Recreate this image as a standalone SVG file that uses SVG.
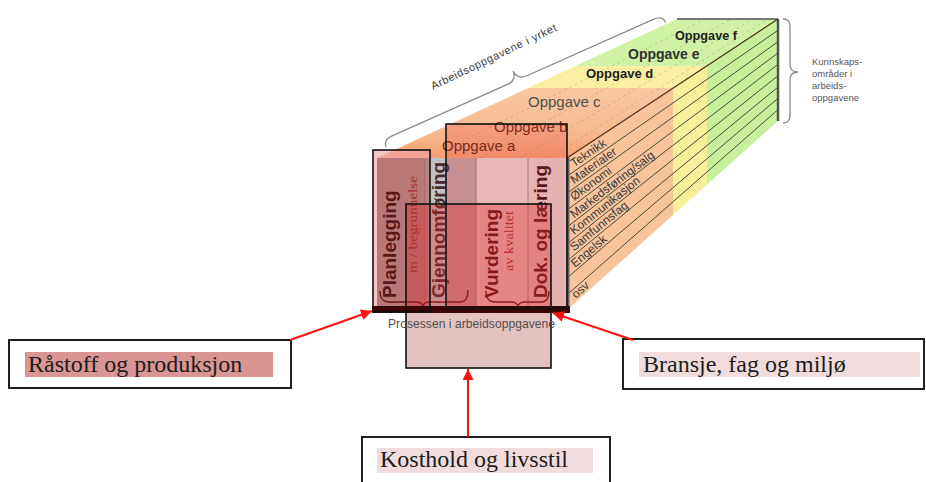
<svg xmlns="http://www.w3.org/2000/svg" width="926" height="482" viewBox="0 0 926 482">
<defs>
<style>
.sans{font-family:"Liberation Sans",Arial,sans-serif}
.col{font-family:"Liberation Sans",Arial,sans-serif;font-weight:bold;font-size:19px}
.small{font-family:"Liberation Serif","Times New Roman",serif;font-size:13px;fill:#a83030}
.row{font-family:"Liberation Sans",Arial,sans-serif;font-size:12px;fill:#3a3a3a}
.rowline{stroke:#4a4a3a;stroke-width:1}
.box{fill:none;stroke:#111;stroke-width:1.6}
.node{fill:#fff;stroke:#1e1e1e;stroke-width:2}
.nodetext{font-family:"Liberation Serif","Times New Roman",serif;font-size:24px;fill:#1c1c1c}
.arrow{stroke:#ff1010;stroke-width:2;fill:none;marker-end:url(#ah)}
.brace{fill:none;stroke:#8a8a8a;stroke-width:1.3}
.pbrace{fill:none;stroke:#6a1010;stroke-width:1.3}
.dash{stroke:#a07a50;stroke-width:0.8;stroke-dasharray:3 3;opacity:0.45}
.div{stroke:#9a6a6a;stroke-width:0.8}
</style>
<marker id="ah" viewBox="0 0 10 10" refX="10" refY="5" markerWidth="14" markerHeight="11" markerUnits="userSpaceOnUse" orient="auto"><path d="M0,0 L10,5 L0,10 z" fill="#ff1010"/></marker>
<clipPath id="topClip"><polygon points="377,158 567,158 778,19 677,19"/></clipPath>
<clipPath id="rightClip"><polygon points="567,158 778,19 778,121 567,310"/></clipPath>
<linearGradient id="topOrange" x1="0" y1="158" x2="0" y2="88" gradientUnits="userSpaceOnUse">
<stop offset="0" stop-color="#f3a072"/><stop offset="0.4" stop-color="#f7bc94"/><stop offset="1" stop-color="#f8c8a2"/>
</linearGradient>
</defs>

<g id="top-face">
<g clip-path="url(#topClip)">
<rect x="370" y="88" width="420" height="72" fill="url(#topOrange)"/>
<rect x="370" y="66" width="420" height="22" fill="#f8f0a0"/>
<rect x="370" y="15" width="420" height="51" fill="#d0f2a6"/>
<line class="dash" x1="430" y1="158" x2="705" y2="19"/>
<line class="dash" x1="480" y1="158" x2="731" y2="19"/>
<line class="dash" x1="520" y1="158" x2="753" y2="19"/>
<line class="dash" x1="550" y1="158" x2="768" y2="19"/>
</g>
<line x1="677" y1="19" x2="778" y2="19" stroke="#505050" stroke-width="1.5"/>
</g>

<g id="right-face">
<g clip-path="url(#rightClip)">
<rect x="565" y="15" width="108" height="300" fill="#f7c49c"/>
<rect x="673" y="15" width="34" height="300" fill="#f7f09a"/>
<rect x="707" y="15" width="75" height="300" fill="#c8f09c"/>
</g>
<line class="rowline" x1="569" y1="174.9" x2="778" y2="30.3"/>
<line class="rowline" x1="569" y1="191.8" x2="778" y2="41.7"/>
<line class="rowline" x1="569" y1="208.7" x2="778" y2="53"/>
<line class="rowline" x1="569" y1="225.6" x2="778" y2="64.3"/>
<line class="rowline" x1="569" y1="242.4" x2="778" y2="75.7"/>
<line class="rowline" x1="569" y1="259.3" x2="778" y2="87"/>
<line class="rowline" x1="569" y1="276.2" x2="778" y2="98.3"/>
<line class="rowline" x1="569" y1="293.1" x2="778" y2="109.6"/>
<line x1="567" y1="158" x2="778" y2="19" stroke="#503020" stroke-width="1.3"/>
<line x1="778" y1="19" x2="778" y2="121" stroke="#505050" stroke-width="2.5"/>
<text class="row" transform="translate(574,167.5) rotate(-34.2)">Teknikk</text>
<text class="row" transform="translate(574,184.2) rotate(-35.2)">Materialer</text>
<text class="row" transform="translate(574,201) rotate(-36.2)">Økonomi</text>
<text class="row" transform="translate(574,218.5) rotate(-37.2)">Markedsføring/salg</text>
<text class="row" transform="translate(574,235) rotate(-38.2)">Kommunikasjon</text>
<text class="row" transform="translate(574,251.5) rotate(-39.2)">Samfunnsfag</text>
<text class="row" transform="translate(575,268) rotate(-40.1)">Engelsk</text>
<text class="row" transform="translate(576,299) rotate(-41.9)">osv</text>
</g>

<g id="overlay-fills">
<rect x="373" y="150" width="57" height="162" fill="rgb(240,165,165)" fill-opacity="0.65"/>
<rect x="446" y="124" width="121" height="184" fill="rgb(238,100,90)" fill-opacity="0.35"/>
</g>

<g id="front-face">
<rect x="377" y="158" width="48" height="149" fill="#b87878"/>
<rect x="425" y="158" width="5" height="149" fill="#b88484"/>
<rect x="430" y="158" width="16" height="149" fill="#c0c2c6"/>
<rect x="446" y="158" width="30" height="149" fill="#c89090"/>
<rect x="476" y="158" width="52" height="149" fill="#e8b6b6"/>
<rect x="528" y="158" width="38" height="149" fill="#e6b2b2"/>
<line class="div" x1="425" y1="158" x2="425" y2="307"/>
<line class="div" x1="476" y1="158" x2="476" y2="307"/>
<line class="div" x1="528" y1="158" x2="528" y2="307"/>
<line x1="568" y1="158" x2="568" y2="310" stroke="#606060" stroke-width="3"/>
<text class="col" fill="#5a1818" transform="translate(396,298) rotate(-90)">Planlegging</text>
<text class="small" transform="translate(417,273) rotate(-90)" textLength="97" lengthAdjust="spacingAndGlyphs">m / begrunnelse</text>
<text class="col" fill="#4a2a2a" transform="translate(445,298) rotate(-90)">Gjennomføring</text>
<text class="col" fill="#5a1010" transform="translate(498,298) rotate(-90)">Vurdering</text>
<text class="small" transform="translate(513,271) rotate(-90)" textLength="60" lengthAdjust="spacingAndGlyphs">av kvalitet</text>
<text class="col" fill="#5a1818" transform="translate(547,298) rotate(-90)">Dok. og læring</text>
<path class="pbrace" d="M380,291 C380,299 383,302 390,302 L415,302 C420,302 423,304 423,307 C423,304 426,302 431,302 L460,302 C466,302 468,297 468,290"/>
<path class="pbrace" d="M486,291 C486,299 489,302 495,302 L511,302 C515,302 518,304 518,307 C518,304 521,302 525,302 L541,302 C547,302 549,298 549,291"/>
</g>

<g id="overlay-c">
<rect x="406" y="204" width="145" height="103" fill="rgb(220,40,40)" fill-opacity="0.35"/>
<rect x="406" y="313" width="145" height="55" fill="#e4c2c2"/>
<rect x="372" y="306" width="198" height="7" fill="#3a0505"/>
</g>

<g id="top-labels" class="sans">
<text x="442" y="151" font-size="15" fill="#7a2a20">Oppgave a</text>
<text x="494" y="132" font-size="15" fill="#8a2a20">Oppgave b</text>
<text x="528" y="107" font-size="15" fill="#505050">Oppgave c</text>
<text x="586" y="78" font-size="13" font-weight="bold" fill="#202020">Oppgave d</text>
<text x="628" y="59" font-size="14" font-weight="bold" fill="#303030">Oppgave e</text>
<text x="675" y="40" font-size="12.7" font-weight="bold" fill="#202020">Oppgave f</text>
</g>

<g id="overlay-outlines">
<rect class="box" x="373" y="150" width="57" height="162"/>
<rect class="box" x="446" y="124" width="121" height="184"/>
<rect class="box" x="406" y="204" width="145" height="164"/>
</g>

<g id="process-label">
<text class="sans" x="388" y="328" font-size="12" fill="#505050" textLength="167">Prosessen i arbeidsoppgavene</text>
</g>

<g id="brace-top">
<path class="brace" transform="translate(383,140) rotate(-24.06)" d="M0,8 C0,2 4,0 10,0 L137,0 C143,0 147,-4 147,-10 C147,-4 151,0 157,0 L296,0 C302,0 306,2 306,8"/>
<text class="sans" font-size="11" fill="#404040" transform="translate(433,90) rotate(-25.6)" textLength="138">Arbeidsoppgavene i yrket</text>
</g>

<g id="brace-right">
<path class="brace" d="M783,19 C789,19 790,22 790,28 L790,64 C790,69 793,72 798,72 C793,72 790,75 790,80 L790,115 C790,120 788,123 783,123"/>
<g class="sans" font-size="9.5" fill="#555">
<text x="812" y="65">Kunnskaps-</text>
<text x="812" y="77">områder i</text>
<text x="812" y="89">arbeids-</text>
<text x="812" y="101">oppgavene</text>
</g>
</g>

<g id="node-rastoff">
<rect class="node" x="9" y="340" width="282" height="48"/>
<rect x="25" y="352" width="248" height="25" fill="#d99494"/>
<text class="nodetext" x="28" y="372">Råstoff og produksjon</text>
</g>

<g id="node-bransje">
<rect class="node" x="623" y="339" width="301" height="50"/>
<rect x="639" y="352" width="281" height="25" fill="#f0dcdc"/>
<text class="nodetext" x="643" y="372">Bransje, fag og miljø</text>
</g>

<g id="node-kosthold">
<rect class="node" x="362" y="437" width="248" height="60"/>
<rect x="377" y="448" width="216" height="25" fill="#f0dcdc"/>
<text class="nodetext" x="380" y="467">Kosthold og livsstil</text>
</g>

<g id="connectors">
<path class="arrow" d="M290,340 L372,311"/>
<path class="arrow" d="M633,340 L553,313"/>
<path class="arrow" d="M468,437 L468,369"/>
</g>
</svg>
